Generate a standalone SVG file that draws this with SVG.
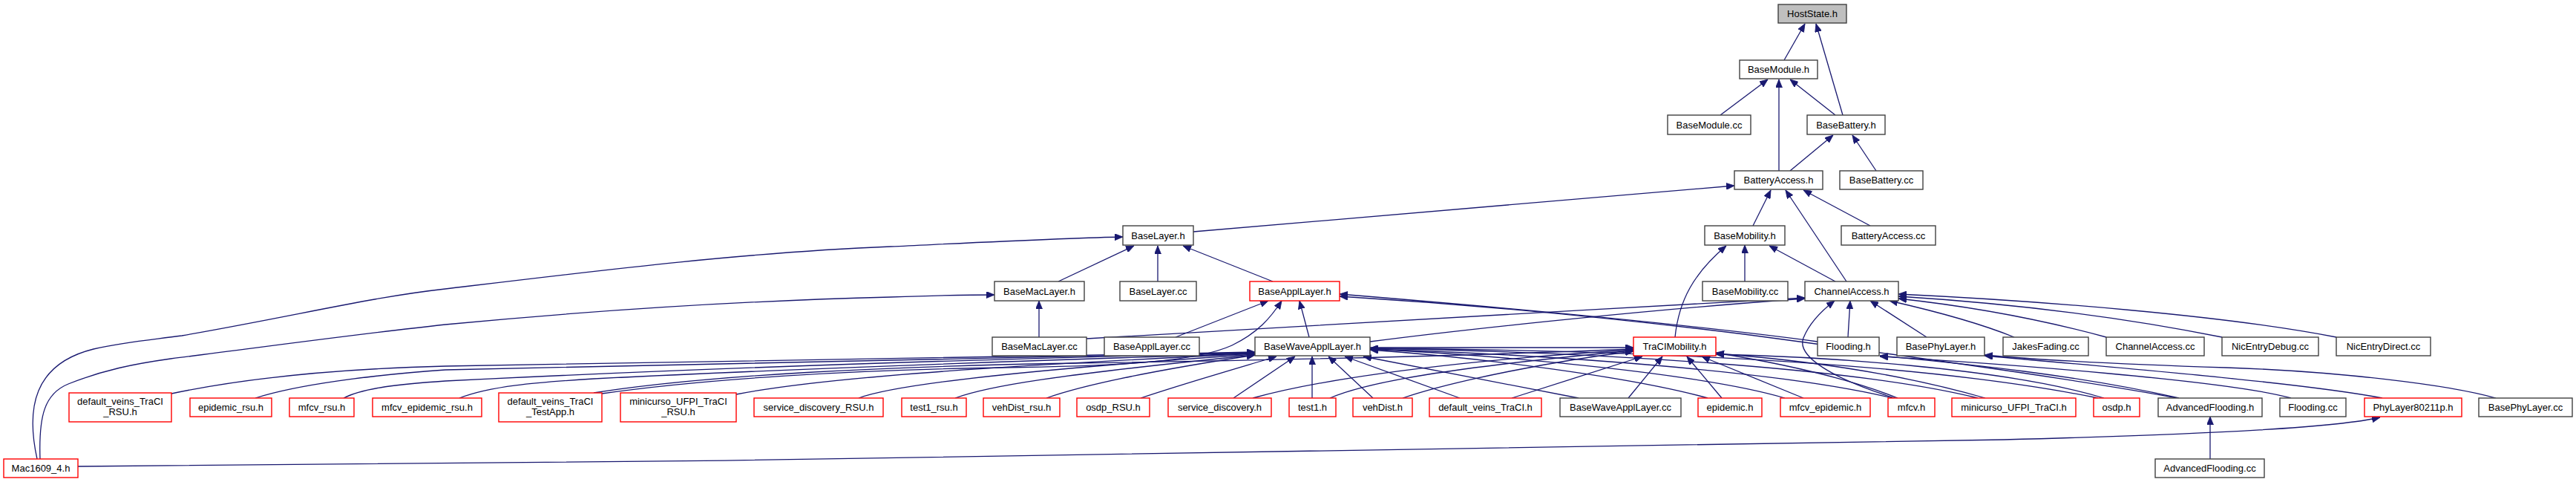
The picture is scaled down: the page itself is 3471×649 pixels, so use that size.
<svg xmlns="http://www.w3.org/2000/svg" width="3471" height="649" viewBox="0 0 3471 649">
<style>
.n rect{fill:#fff;stroke:#404040;stroke-width:1.4}
.r rect{fill:#fff;stroke:#ff0000;stroke-width:1.4}
.g rect{fill:#bfbfbf;stroke:#404040;stroke-width:1.4}
text{font-family:"Liberation Sans",Arial,Helvetica,sans-serif;font-size:13px;text-anchor:middle;fill:#000}
#edges path{fill:none;stroke:#191970;stroke-width:1.3;marker-end:url(#a)}
</style>
<defs>
<marker id="a" viewBox="0 0 11 9" refX="11" refY="4.5" markerWidth="11" markerHeight="9" markerUnits="userSpaceOnUse" orient="auto">
<path d="M0,0 L11,4.5 L0,9 z" fill="#191970" stroke="#191970" stroke-width="0.8"/>
</marker>
</defs>
<rect x="0" y="0" width="3471" height="649" fill="#fff"/>
<g id="edges">
<path d="M2404,81 L2432,32"/>
<path d="M2483,155 L2447,32"/>
<path d="M2318,155 L2382,107"/>
<path d="M2473,155 L2412,107"/>
<path d="M2397,230 L2397,107"/>
<path d="M2412,230 L2470,182"/>
<path d="M2528,230 L2496,182"/>
<path d="M1608,312 L2337,250"/>
<path d="M2362,304 L2386,256"/>
<path d="M2488,379 L2406,256"/>
<path d="M2520,304 L2430,256"/>
<path d="M2473,379 L2384,331"/>
<path d="M1426,379 L1528,331"/>
<path d="M1560,379 L1560,331"/>
<path d="M1715,379 L1594,331"/>
<path d="M50,618 C35,550 45,490 126,470 C170,460 200,458 245,452 C400,425 500,400 600,389 C800,365 1000,340 1200,332 C1350,325 1450,320 1513,319"/>
<path d="M54,618 C52,560 60,530 92,517 C140,498 180,490 230,483 C350,468 480,450 600,437 C800,418 1000,405 1200,400 C1260,398 1300,397 1340,397"/>
<path d="M1400,454 L1400,405"/>
<path d="M2351,379 L2351,330"/>
<path d="M2257,454 C2262,405 2282,368 2326,331"/>
<path d="M1584,454 L1709,405"/>
<path d="M1764,454 L1751,405"/>
<path d="M811,530 C950,510 1150,498 1350,495 C1500,493 1610,488 1660,465 C1695,448 1712,428 1727,405"/>
<path d="M800,529 C950,505 1200,493 1450,489 C1800,484 2000,478 2201,470"/>
<path d="M231,530 C350,505 480,496 600,493 C900,488 1300,482 1691,474"/>
<path d="M344,536 C400,518 500,505 600,498 C900,490 1300,481 1691,475"/>
<path d="M463,536 C490,522 540,517 600,513 C900,498 1300,484 1691,475"/>
<path d="M619,536 C660,520 720,515 800,510 C1100,495 1400,485 1691,476"/>
<path d="M992,531 C1100,510 1300,495 1691,476"/>
<path d="M1157,536 C1200,520 1350,500 1691,477"/>
<path d="M1287,536 C1330,520 1420,505 1691,478"/>
<path d="M1410,536 C1460,518 1560,498 1691,478"/>
<path d="M1537,536 C1600,515 1670,495 1720,480"/>
<path d="M1662,536 L1745,480"/>
<path d="M1768,536 L1768,480"/>
<path d="M1850,536 L1790,480"/>
<path d="M1967,536 L1812,480"/>
<path d="M2127,536 L1837,480"/>
<path d="M1688,536 C1800,505 2000,483 2201,471"/>
<path d="M1792,536 C1840,515 1950,495 2201,472"/>
<path d="M1890,536 C1960,512 2100,485 2201,473"/>
<path d="M2037,536 L2213,480"/>
<path d="M2194,536 L2240,480"/>
<path d="M2320,536 L2273,480"/>
<path d="M2430,536 L2293,480"/>
<path d="M1846,468 L2201,468"/>
<path d="M2301,536 C2200,508 2000,482 1846,471"/>
<path d="M2405,536 C2300,505 2050,480 1846,470"/>
<path d="M2550,536 C2400,500 2100,478 1846,470"/>
<path d="M2665,536 C2500,495 2150,474 1846,469"/>
<path d="M2827,536 C2600,490 2250,472 1846,469"/>
<path d="M2557,536 C2480,505 2380,486 2312,475"/>
<path d="M2675,536 C2550,500 2420,484 2312,476"/>
<path d="M2835,536 C2700,495 2450,480 2312,477"/>
<path d="M2553,536 C2470,510 2420,480 2430,455 C2438,435 2455,418 2472,405"/>
<path d="M1464,456 C1700,440 2100,420 2432,401"/>
<path d="M1846,460 C2000,440 2250,415 2432,402"/>
<path d="M2490,454 L2493,405"/>
<path d="M2596,454 L2520,405"/>
<path d="M2714,454 C2660,432 2590,415 2546,405"/>
<path d="M2838,454 C2750,430 2650,412 2558,402"/>
<path d="M2994,454 C2850,425 2700,408 2558,399"/>
<path d="M3148,454 C3000,425 2750,405 2558,396"/>
<path d="M2449,460 C2300,440 2100,420 1805,396"/>
<path d="M2933,536 C2800,510 2500,470 2350,450 C2150,425 1950,408 1805,399"/>
<path d="M2936,536 C2800,505 2650,490 2533,479"/>
<path d="M3087,536 C3000,512 2700,490 2533,480"/>
<path d="M3210,536 C3100,515 2850,495 2674,479"/>
<path d="M3363,536 C3300,518 3150,500 3000,495 C2850,490 2750,485 2674,478"/>
<path d="M105,628 C1000,622 2200,606 2700,592 C3000,584 3150,575 3207,562"/>
<path d="M2978,618 L2978,561"/>
</g>
<g id="HostState_h" class="g"><rect x="2396" y="6" width="92" height="25"/><text x="2442" y="23">HostState.h</text></g>
<g id="BaseModule_h" class="n"><rect x="2344" y="81" width="105" height="25"/><text x="2396.5" y="98">BaseModule.h</text></g>
<g id="BaseModule_cc" class="n"><rect x="2247" y="155" width="112" height="26"/><text x="2303" y="172.5">BaseModule.cc</text></g>
<g id="BaseBattery_h" class="n"><rect x="2435" y="155" width="105" height="26"/><text x="2487.5" y="172.5">BaseBattery.h</text></g>
<g id="BatteryAccess_h" class="n"><rect x="2337" y="230" width="119" height="25"/><text x="2396.5" y="247">BatteryAccess.h</text></g>
<g id="BaseBattery_cc" class="n"><rect x="2479" y="230" width="112" height="25"/><text x="2535" y="247">BaseBattery.cc</text></g>
<g id="BaseLayer_h" class="n"><rect x="1513" y="304" width="95" height="26"/><text x="1560.5" y="321.5">BaseLayer.h</text></g>
<g id="BaseMobility_h" class="n"><rect x="2297" y="304" width="108" height="26"/><text x="2351" y="321.5">BaseMobility.h</text></g>
<g id="BatteryAccess_cc" class="n"><rect x="2481" y="304" width="127" height="26"/><text x="2544.5" y="321.5">BatteryAccess.cc</text></g>
<g id="BaseMacLayer_h" class="n"><rect x="1340" y="379" width="121" height="26"/><text x="1400.5" y="396.5">BaseMacLayer.h</text></g>
<g id="BaseLayer_cc" class="n"><rect x="1509" y="379" width="103" height="26"/><text x="1560.5" y="396.5">BaseLayer.cc</text></g>
<g id="BaseApplLayer_h" class="r"><rect x="1684" y="379" width="121" height="26"/><text x="1744.5" y="396.5">BaseApplLayer.h</text></g>
<g id="BaseMobility_cc" class="n"><rect x="2294" y="379" width="115" height="26"/><text x="2351.5" y="396.5">BaseMobility.cc</text></g>
<g id="ChannelAccess_h" class="n"><rect x="2432" y="379" width="126" height="26"/><text x="2495" y="396.5">ChannelAccess.h</text></g>
<g id="BaseMacLayer_cc" class="n"><rect x="1337" y="454" width="127" height="25"/><text x="1400.5" y="471">BaseMacLayer.cc</text></g>
<g id="BaseApplLayer_cc" class="n"><rect x="1488" y="454" width="128" height="25"/><text x="1552" y="471">BaseApplLayer.cc</text></g>
<g id="BaseWaveApplLayer_h" class="n"><rect x="1691" y="454" width="155" height="25"/><text x="1768.5" y="471">BaseWaveApplLayer.h</text></g>
<g id="TraCIMobility_h" class="r"><rect x="2201" y="454" width="111" height="25"/><text x="2256.5" y="471">TraCIMobility.h</text></g>
<g id="Flooding_h" class="n"><rect x="2449" y="454" width="83" height="25"/><text x="2490.5" y="471">Flooding.h</text></g>
<g id="BasePhyLayer_h" class="n"><rect x="2556" y="454" width="118" height="25"/><text x="2615" y="471">BasePhyLayer.h</text></g>
<g id="JakesFading_cc" class="n"><rect x="2699" y="454" width="115" height="25"/><text x="2756.5" y="471">JakesFading.cc</text></g>
<g id="ChannelAccess_cc" class="n"><rect x="2838" y="454" width="132" height="25"/><text x="2904" y="471">ChannelAccess.cc</text></g>
<g id="NicEntryDebug_cc" class="n"><rect x="2994" y="454" width="130" height="25"/><text x="3059" y="471">NicEntryDebug.cc</text></g>
<g id="NicEntryDirect_cc" class="n"><rect x="3148" y="454" width="127" height="25"/><text x="3211.5" y="471">NicEntryDirect.cc</text></g>
<g id="default_veins_TraCI_RSU_h" class="r"><rect x="93" y="529" width="138" height="39"/><text x="162" y="545">default_veins_TraCI</text><text x="162" y="559">_RSU.h</text></g>
<g id="epidemic_rsu_h" class="r"><rect x="256" y="536" width="110" height="25"/><text x="311" y="553">epidemic_rsu.h</text></g>
<g id="mfcv_rsu_h" class="r"><rect x="390" y="536" width="87" height="25"/><text x="433.5" y="553">mfcv_rsu.h</text></g>
<g id="mfcv_epidemic_rsu_h" class="r"><rect x="502" y="536" width="147" height="25"/><text x="575.5" y="553">mfcv_epidemic_rsu.h</text></g>
<g id="default_veins_TraCI_TestApp_h" class="r"><rect x="672" y="529" width="139" height="39"/><text x="741.5" y="545">default_veins_TraCI</text><text x="741.5" y="559">_TestApp.h</text></g>
<g id="minicurso_UFPI_TraCI_RSU_h" class="r"><rect x="836" y="529" width="156" height="39"/><text x="914" y="545">minicurso_UFPI_TraCI</text><text x="914" y="559">_RSU.h</text></g>
<g id="service_discovery_RSU_h" class="r"><rect x="1016" y="536" width="174" height="25"/><text x="1103" y="553">service_discovery_RSU.h</text></g>
<g id="test1_rsu_h" class="r"><rect x="1215" y="536" width="87" height="25"/><text x="1258.5" y="553">test1_rsu.h</text></g>
<g id="vehDist_rsu_h" class="r"><rect x="1325" y="536" width="103" height="25"/><text x="1376.5" y="553">vehDist_rsu.h</text></g>
<g id="osdp_RSU_h" class="r"><rect x="1451" y="536" width="98" height="25"/><text x="1500" y="553">osdp_RSU.h</text></g>
<g id="service_discovery_h" class="r"><rect x="1574" y="536" width="139" height="25"/><text x="1643.5" y="553">service_discovery.h</text></g>
<g id="test1_h" class="r"><rect x="1737" y="536" width="63" height="25"/><text x="1768.5" y="553">test1.h</text></g>
<g id="vehDist_h" class="r"><rect x="1823" y="536" width="80" height="25"/><text x="1863" y="553">vehDist.h</text></g>
<g id="default_veins_TraCI_h" class="r"><rect x="1926" y="536" width="151" height="25"/><text x="2001.5" y="553">default_veins_TraCI.h</text></g>
<g id="BaseWaveApplLayer_cc" class="n"><rect x="2102" y="536" width="163" height="25"/><text x="2183.5" y="553">BaseWaveApplLayer.cc</text></g>
<g id="epidemic_h" class="r"><rect x="2288" y="536" width="86" height="25"/><text x="2331" y="553">epidemic.h</text></g>
<g id="mfcv_epidemic_h" class="r"><rect x="2399" y="536" width="121" height="25"/><text x="2459.5" y="553">mfcv_epidemic.h</text></g>
<g id="mfcv_h" class="r"><rect x="2544" y="536" width="63" height="25"/><text x="2575.5" y="553">mfcv.h</text></g>
<g id="minicurso_UFPI_TraCI_h" class="r"><rect x="2630" y="536" width="167" height="25"/><text x="2713.5" y="553">minicurso_UFPI_TraCI.h</text></g>
<g id="osdp_h" class="r"><rect x="2821" y="536" width="62" height="25"/><text x="2852" y="553">osdp.h</text></g>
<g id="AdvancedFlooding_h" class="n"><rect x="2908" y="536" width="140" height="25"/><text x="2978" y="553">AdvancedFlooding.h</text></g>
<g id="Flooding_cc" class="n"><rect x="3072" y="536" width="89" height="25"/><text x="3116.5" y="553">Flooding.cc</text></g>
<g id="PhyLayer80211p_h" class="r"><rect x="3186" y="536" width="131" height="25"/><text x="3251.5" y="553">PhyLayer80211p.h</text></g>
<g id="BasePhyLayer_cc" class="n"><rect x="3340" y="536" width="126" height="25"/><text x="3403" y="553">BasePhyLayer.cc</text></g>
<g id="Mac1609_4_h" class="r"><rect x="5" y="618" width="100" height="25"/><text x="55" y="635">Mac1609_4.h</text></g>
<g id="AdvancedFlooding_cc" class="n"><rect x="2904" y="618" width="147" height="25"/><text x="2977.5" y="635">AdvancedFlooding.cc</text></g>
</svg>
